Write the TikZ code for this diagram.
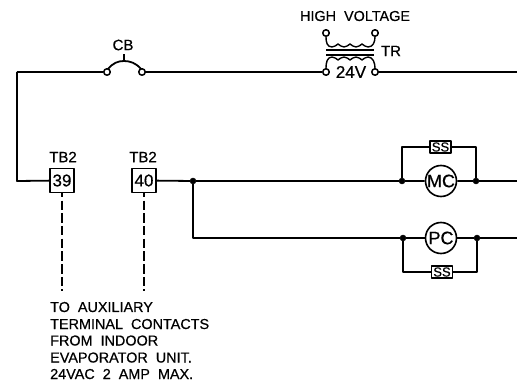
\documentclass[tikz,border=0pt]{standalone}
\usepackage{fontspec}
\setmainfont{Liberation Sans}
\newfontfamily\drw[FakeBold=0.5]{Liberation Sans}
\begin{document}
\begin{tikzpicture}[x=1pt,y=-1pt,line join=round,
  wire/.style={line width=1.8pt},
  thin wire/.style={line width=1.4pt},
  lbl/.style={inner sep=0pt,font=\drw\fontsize{15}{15}\selectfont},
  term/.style={circle,draw,line width=1.5pt,fill=white,minimum size=6.5pt,inner sep=0pt},
  junction/.style={circle,fill=black,draw=black,minimum size=6pt,inner sep=0pt},
  tb/.style={rectangle,draw,line width=1.8pt,minimum size=24pt,inner sep=0pt,font=\drw\fontsize{17}{17}\selectfont},
  coil/.style={circle,draw,fill=white,line width=1.6pt,minimum size=31pt,inner sep=0pt,font=\drw\fontsize{18}{18}\selectfont},
  ssbox/.style={rectangle,draw,fill=white,line width=1.8pt,minimum width=21pt,minimum height=12pt,inner sep=0pt,font=\drw\fontsize{13}{13}\selectfont},
  note/.style={inner sep=0pt,anchor=base west,font=\drw\fontsize{14.4}{14.4}\selectfont},
  dashline/.style={wire,dash pattern=on 9.5pt off 3.2pt,dash phase=5.5pt}]
\useasboundingbox (0,0) rectangle (517,382);
% coordinates
\coordinate (R) at (517,72);
\coordinate (C) at (17,72);
\coordinate (D) at (17,181);
\coordinate (R1) at (517,181);
\coordinate (R2) at (517,238);
\coordinate (J2) at (193,238);
\coordinate (E1) at (62,291);
\coordinate (E2) at (144,291);
% terminals / nodes
\node[tb] (t39) at (62,180.5) {39};
\node[tb] (t40) at (144,180.5) {40};
\node[lbl] (l39) at (63,157) {TB2};
\node[lbl] (l40) at (143,157) {TB2};
\node[junction] (j0) at (193,181) {};
\node[term] (cb1) at (107,72) {};
\node[term] (cb2) at (142,72) {};
\node[term] (hv1) at (326,33) {};
\node[term] (hv2) at (375,33) {};
\node[term] (lv1) at (326,72) {};
\node[term] (lv2) at (375,72) {};
\node[junction] (m1) at (402,181) {};
\node[junction] (m2) at (476,181) {};
\node[junction] (p1) at (403,238) {};
\node[junction] (p2) at (477,238) {};
\node[coil] (mc) at (441,181) {MC};
\node[coil] (pc) at (441,238) {PC};
\node[ssbox] (ss1) at (440.5,147) {SS};
\node[ssbox] (ss2) at (442,272) {SS};
% wires
\draw[wire] (C) -- (cb1);
\draw[wire] (C) -- (D) -- (t39);
\draw[wire] (cb2) -- (lv1);
\draw[wire] (lv2) -- (R);
\draw[wire] (t40) -- (j0) -- (m1) -- (mc) -- (m2) -- (R1);
\draw[wire] (j0) -- (J2) -- (p1) -- (pc) -- (p2) -- (R2);
\draw[thin wire] (m1) |- (ss1) -| (m2);
\draw[thin wire] (p1) |- (ss2) -| (p2);
\draw[dashline] (t39) -- (E1);
\draw[dashline] (t40) -- (E2);
% breaker
\coordinate (cbtop) at (124,61);
\coordinate (cbtick) at (124,54);
\draw[wire] (108,69) .. controls (113,63) and (118,61) .. (cbtop) .. controls (130,61) and (136,63) .. (141,69);
\draw[thin wire] (cbtop) -- (cbtick);
\node[lbl] (cb) at (123,45) {CB};
% transformer
\draw[thin wire] (hv1) .. controls (326,42) and (327,47) .. (332,47)
  .. controls (335,47) and (336,45) .. (338,44) .. controls (340,45) and (341,47) .. (344,47)
  .. controls (347,47) and (348,45) .. (350,44) .. controls (352,45) and (353,47) .. (356,47)
  .. controls (359,47) and (360,45) .. (362,44) .. controls (364,45) and (365,47) .. (368,47)
  .. controls (373,47) and (375,42) .. (hv2);
\draw[thin wire] (326,50) -- (374,50);
\draw[thin wire] (326,55) -- (374,55);
\draw[thin wire] (lv1) .. controls (326,63) and (327,57) .. (332,57)
  .. controls (335,57) and (336,59) .. (338,60) .. controls (340,59) and (341,57) .. (344,57)
  .. controls (347,57) and (348,59) .. (350,60) .. controls (352,59) and (353,57) .. (356,57)
  .. controls (359,57) and (360,59) .. (362,60) .. controls (364,59) and (365,57) .. (368,57)
  .. controls (373,57) and (375,63) .. (lv2);
\node[lbl,font=\drw\fontsize{14.4}{14.4}\selectfont] (hv) at (355,16) {HIGH\ \ VOLTAGE};
\node[lbl] (tr) at (391,51) {TR};
\node[lbl,fill=white,inner xsep=1pt,font=\drw\fontsize{17}{17}\selectfont] (v24) at (351,72) {24V};
% note
\node[note] (n1) at (50,312) {TO\ \ AUXILIARY};
\node[note] (n2) at (50,329) {TERMINAL\ \ CONTACTS};
\node[note] (n3) at (50,345.5) {FROM\ \ INDOOR};
\node[note] (n4) at (50,362.5) {EVAPORATOR\ \ UNIT.};
\node[note] (n5) at (50,379) {24VAC\ \ 2\ \ AMP\ \ MAX.};
\end{tikzpicture}
\end{document}
